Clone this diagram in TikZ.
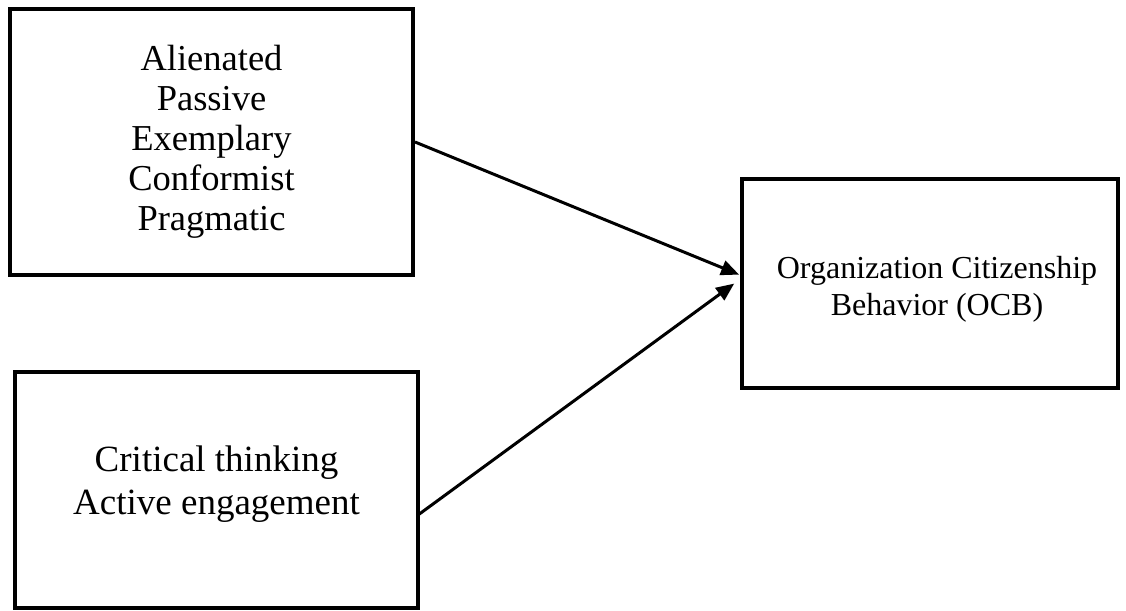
\documentclass[tikz,border=0pt]{standalone}
\usepackage{fontspec}
\setmainfont{Liberation Serif}
\usepackage{tikz}
\usetikzlibrary{arrows.meta,positioning,calc}

\begin{document}
\begin{tikzpicture}[x=1pt,y=-1pt,>={Triangle[length=18pt,width=15pt]},
box/.style = {draw, line width=4pt, align=center, inner sep=0pt},
link/.style = {->, line width=3pt, shorten >=1pt},]
\useasboundingbox (0,0) rectangle (1126,610);
\node (styles) at (211.5,142)[box,minimum width=403pt,minimum height=266pt,font=\fontsize{36.5}{40}\selectfont] {Alienated\\Passive\\Exemplary\\Conformist\\Pragmatic};
\node (traits) at (216.5,490)[box,minimum width=403pt,minimum height=236pt] {};
\node (traits text) at (216.5,484)[align=center,font=\fontsize{37}{43}\selectfont] {Critical thinking\\Active engagement};
\node (ocb) at (930,283.5)[box,minimum width=376pt,minimum height=209pt] {};
\node (ocb text) at (937,289)[align=center,font=\fontsize{32}{37}\selectfont] {Organization Citizenship\\Behavior (OCB)};
\coordinate (traits out) at (418,515);
\coordinate (ocb in1) at (740,275);
\coordinate (ocb in2) at (735,283);
\draw[link] (styles.east) -- (ocb in1);
\draw[link] (traits out) -- (ocb in2);
\end{tikzpicture}
\end{document}
